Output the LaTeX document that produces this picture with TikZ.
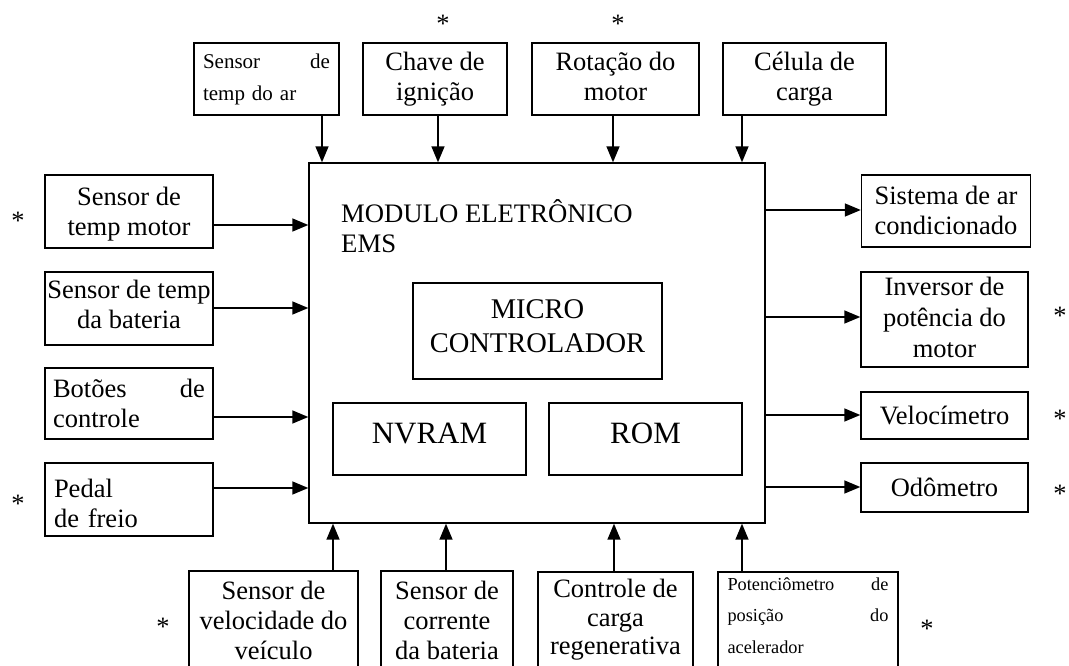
\documentclass[tikz,border=0pt]{standalone}
\usepackage{fontspec}
\setmainfont{Liberation Serif}
\usetikzlibrary{arrows.meta}
\begin{document}
\begin{tikzpicture}[x=1pt,y=-1pt,
  box/.style={draw,line width=1.4pt,inner sep=0pt,align=center,font=\fontsize{26.5}{30}\selectfont},
  inner/.style={draw,line width=1.4pt,inner sep=0pt,align=center},
  arr/.style={line width=1.5pt,-{Triangle[length=16pt,width=13pt]}},
  star/.style={inner sep=0pt,anchor=base,font=\fontsize{26.5}{30}\selectfont}]
\useasboundingbox (0,0) rectangle (1069,666);
\clip (0,0) rectangle (1069,666);

% main module
\node[draw,line width=1.4pt,minimum width=456pt,minimum height=360pt,inner sep=0pt] (main) at (537,343) {};
\node[inner sep=0pt,anchor=base west,align=left,font=\fontsize{26.7}{30}\selectfont] (title) at (341,252) {MODULO ELETRÔNICO\\EMS};
\node[inner,minimum width=249pt,minimum height=96pt,text depth=9pt,font=\fontsize{28.5}{34}\selectfont] (micro) at (537.5,331) {MICRO\\CONTROLADOR};
\node[inner,minimum width=193pt,minimum height=72pt,text depth=12pt,font=\fontsize{31}{34}\selectfont] (nvram) at (429.5,439) {NVRAM};
\node[inner,minimum width=193pt,minimum height=72pt,text depth=12pt,font=\fontsize{31}{34}\selectfont] (rom) at (645.5,439) {ROM};

% top boxes
\node[box,minimum width=145pt,minimum height=72pt,text width=127pt,align=left,font=\fontsize{21}{32}\selectfont] (tA) at (266.5,79) {Sensor\hfill de\\temp do ar};
\node[box,minimum width=144pt,minimum height=72pt,text depth=6pt] (tB) at (435,79) {Chave de\\ignição};
\node[box,minimum width=167pt,minimum height=72pt,text depth=6pt] (tC) at (615.5,79) {Rotação do\\motor};
\node[box,minimum width=163pt,minimum height=72pt,text depth=6pt] (tD) at (804.5,79) {Célula de\\carga};

% left boxes
\node[box,minimum width=168pt,minimum height=73pt,text depth=1pt] (lA) at (129,211.5) {Sensor de\\temp motor};
\node[box,minimum width=168pt,minimum height=73pt,text depth=9pt] (lB) at (129,308.5) {Sensor de temp\\da bateria};
\node[box,minimum width=168pt,minimum height=71pt,text width=152pt,align=left] (lC) at (129,403.5) {Botões\hfill de\\controle};
\node[box,minimum width=168pt,minimum height=73pt,text width=150pt,align=left,text depth=23pt] (lD) at (129,499.5) {Pedal\\de freio};

% right boxes
\node[box,minimum width=169pt,minimum height=72pt,text depth=2pt] (rA) at (946,211) {Sistema de ar\\condicionado};
\node[box,minimum width=167pt,minimum height=95pt,text depth=5pt,font=\fontsize{26.5}{31}\selectfont] (rB) at (944.5,319.5) {Inversor de\\potência do\\motor};
\node[box,minimum width=167pt,minimum height=47pt] (rC) at (944.5,415.5) {Velocímetro};
\node[box,minimum width=167pt,minimum height=49pt] (rD) at (944.5,487.5) {Odômetro};

% bottom boxes (cut by the lower edge of the picture)
\node[box,minimum width=169pt,minimum height=120pt,text depth=20.5pt] (bA) at (273.5,631) {Sensor de\\velocidade do\\veículo};
\node[box,minimum width=132pt,minimum height=120pt,text depth=20.5pt] (bB) at (447,631) {Sensor de\\corrente\\da bateria};
\node[box,minimum width=155pt,minimum height=120pt,text depth=29.5pt,font=\fontsize{26.5}{28.5}\selectfont] (bC) at (615.5,632) {Controle de\\carga\\regenerativa};
\node[box,minimum width=180pt,minimum height=120pt,text width=161pt,align=left,text depth=96.5pt,font=\fontsize{18.3}{31.5}\selectfont] (bD) at (808,632) {Potenciômetro\hfill de\\posição\hfill do\\acelerador};

% asterisks
\node[star] (s1) at (443,32.5) {*};
\node[star] (s2) at (618,32.5) {*};
\node[star] (s3) at (18,229.5) {*};
\node[star] (s4) at (18,512.5) {*};
\node[star] (s5) at (1060,324.5) {*};
\node[star] (s6) at (1060,427.5) {*};
\node[star] (s7) at (1060,502.5) {*};
\node[star] (s8) at (163,635.5) {*};
\node[star] (s9) at (927,637.5) {*};

% connector coordinates
\coordinate (pt1) at (322,0);
\coordinate (pt2) at (438,0);
\coordinate (pt3) at (613,0);
\coordinate (pt4) at (742,0);
\coordinate (pl1) at (0,225);
\coordinate (pl2) at (0,308);
\coordinate (pl3) at (0,417);
\coordinate (pl4) at (0,488);
\coordinate (pr1) at (0,210);
\coordinate (pr2) at (0,317);
\coordinate (pr3) at (0,415);
\coordinate (pr4) at (0,487);
\coordinate (pb1) at (333,0);
\coordinate (pb2) at (446,0);
\coordinate (pb3) at (614,0);
\coordinate (pb4) at (742,0);

\draw[arr] (tA.south -| pt1) -- (main.north -| pt1);
\draw[arr] (tB.south -| pt2) -- (main.north -| pt2);
\draw[arr] (tC.south -| pt3) -- (main.north -| pt3);
\draw[arr] (tD.south -| pt4) -- (main.north -| pt4);

\draw[arr] (lA.east |- pl1) -- (main.west |- pl1);
\draw[arr] (lB.east |- pl2) -- (main.west |- pl2);
\draw[arr] (lC.east |- pl3) -- (main.west |- pl3);
\draw[arr] (lD.east |- pl4) -- (main.west |- pl4);

\draw[arr] (main.east |- pr1) -- (rA.west |- pr1);
\draw[arr] (main.east |- pr2) -- (rB.west |- pr2);
\draw[arr] (main.east |- pr3) -- (rC.west |- pr3);
\draw[arr] (main.east |- pr4) -- (rD.west |- pr4);

\draw[arr] (bA.north -| pb1) -- (main.south -| pb1);
\draw[arr] (bB.north -| pb2) -- (main.south -| pb2);
\draw[arr] (bC.north -| pb3) -- (main.south -| pb3);
\draw[arr] (bD.north -| pb4) -- (main.south -| pb4);
\end{tikzpicture}
\end{document}
